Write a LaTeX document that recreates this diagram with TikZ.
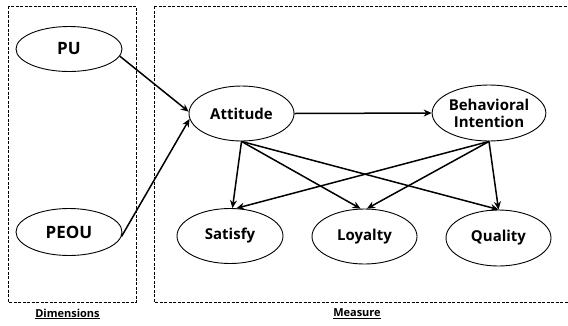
\documentclass[tikz,border=0pt]{standalone}
\usepackage{fontspec}
\setmainfont{Open Sans}
\usetikzlibrary{shapes.geometric,arrows.meta}
\begin{document}
\begin{tikzpicture}[x=1pt,y=-1pt,
  var/.style={draw,ellipse,line width=0.9pt,inner sep=0pt,font=\fontsize{15}{17}\selectfont\bfseries,align=center},
  big/.style={font=\fontsize{17}{19}\selectfont\bfseries},
  arr/.style={line width=1.5pt,-{Stealth[length=8pt,width=7pt]}},
  grp/.style={draw,line width=0.7pt,dash pattern=on 3pt off 1.5pt},
  lbl/.style={font=\fontsize{11}{13}\selectfont\bfseries}]
\useasboundingbox (0,0) rectangle (568,325);
\draw[grp] (8,6) rectangle (136,302);
\draw[grp] (154,6) rectangle (575,302);
\node[lbl] (ldim) at (67.5,314) {\underline{Dimensions}};
\node[lbl] (lmea) at (357,314) {\underline{Measure}};
\node[var,big,minimum width=106pt,minimum height=45pt] (PU) at (69,49) {PU};
\node[var,big,minimum width=106pt,minimum height=47pt] (PEOU) at (69,232) {PEOU};
\node[var,minimum width=105pt,minimum height=55pt] (Att) at (241.5,113.5) {Attitude};
\node[var,minimum width=106pt,minimum height=56pt] (BI) at (489,113) {Behavioral\\Intention};
\node[var,minimum width=106pt,minimum height=55pt] (Sat) at (230,236) {Satisfy};
\node[var,minimum width=105pt,minimum height=55pt] (Loy) at (364.5,236.5) {Loyalty};
\node[var,minimum width=105pt,minimum height=56pt] (Qua) at (498.5,238) {Quality};
\draw[arr] (PU.-8) -- (Att.178);
\draw[arr] (PEOU.-5) -- (Att.186);
\draw[arr] (Att.east) -- (BI.west);
\draw[arr] (Att.south) -- (Sat.85);
\draw[arr] (Att.south) -- (Loy.98);
\draw[arr] (Att.south) -- (Qua.north);
\draw[arr] (BI.south) -- (Sat.77);
\draw[arr] (BI.south) -- (Loy.85);
\draw[arr] (BI.south) -- (Qua.north);
\end{tikzpicture}
\end{document}
